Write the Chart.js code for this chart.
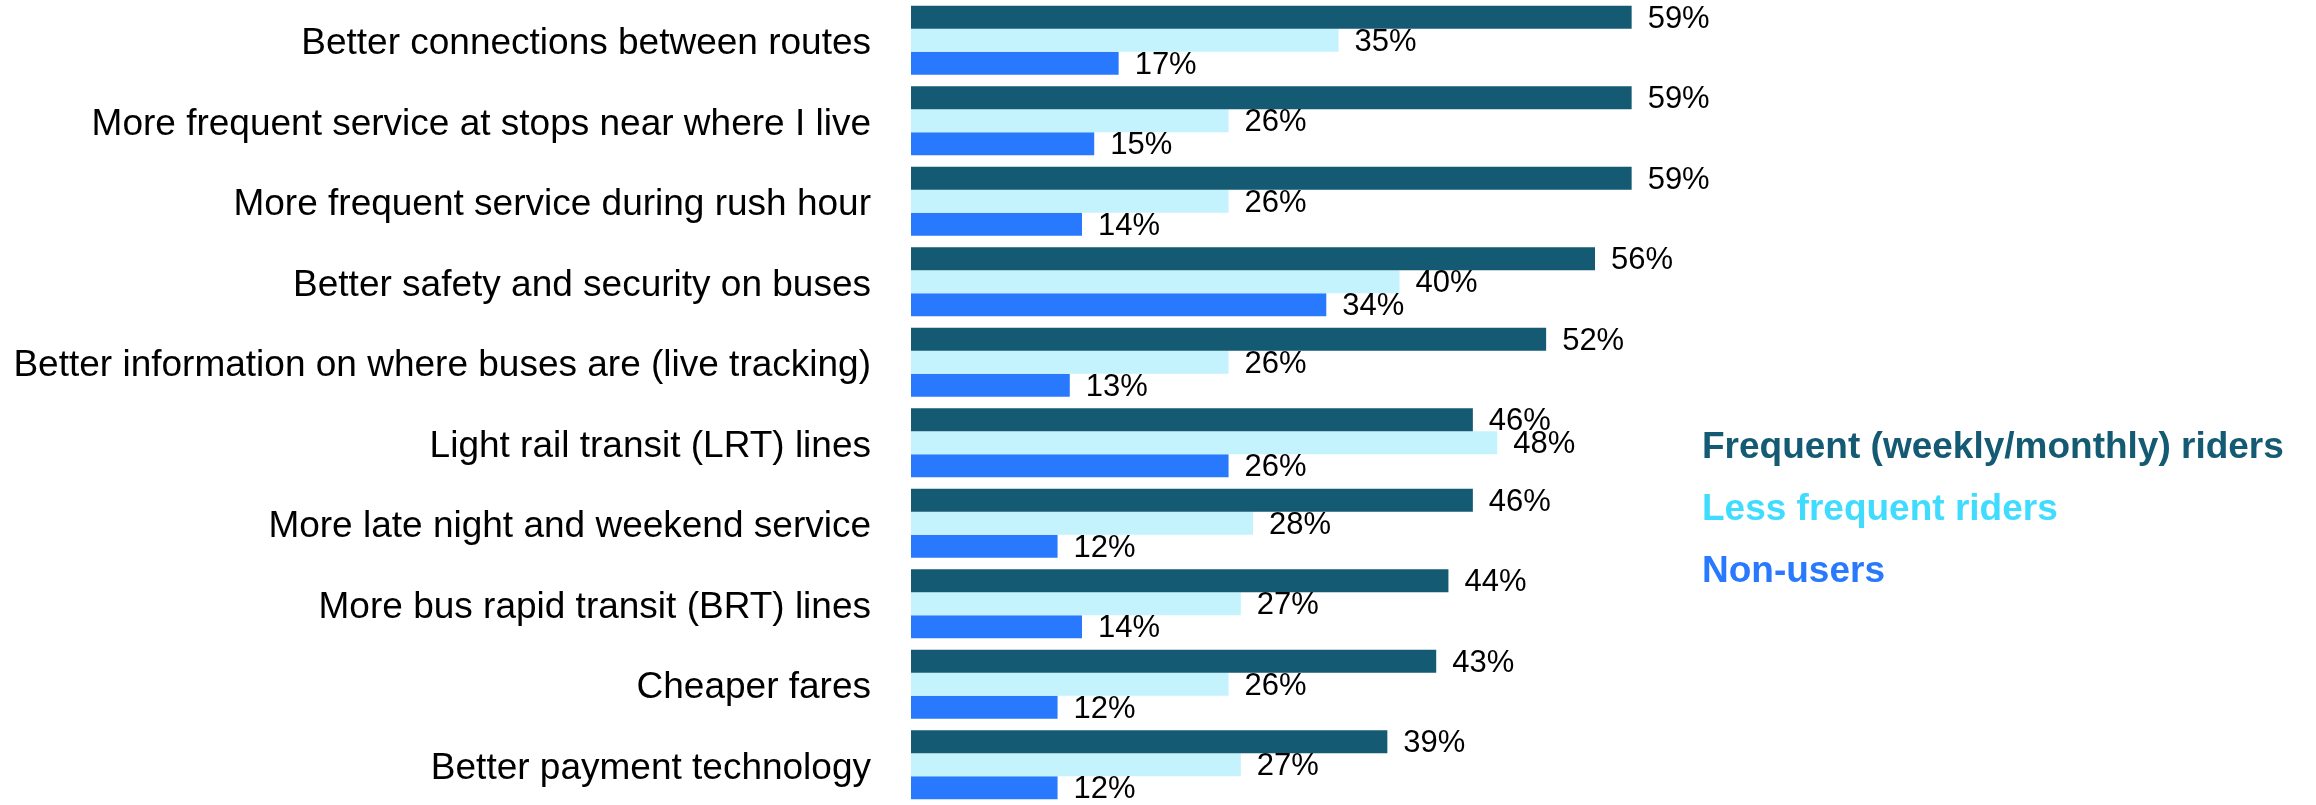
<!DOCTYPE html>
<html>
<head>
<title>Transit improvements by rider group</title>
<style>
body {
	margin: 0;
	background: #fff;
}
#chart-container {
	width: 2316px;
	height: 805px;
}
</style>
</head>
<body>
<div id="chart-container"><canvas id="chart"></canvas></div>
<script src="https://cdn.jsdelivr.net/npm/chart.js@4/dist/chart.umd.min.js"></script>
<script>
	var categories = [
		"Better connections between routes",
		"More frequent service at stops near where I live",
		"More frequent service during rush hour",
		"Better safety and security on buses",
		"Better information on where buses are (live tracking)",
		"Light rail transit (LRT) lines",
		"More late night and weekend service",
		"More bus rapid transit (BRT) lines",
		"Cheaper fares",
		"Better payment technology"
	];
	var seriesNames = ["Frequent (weekly/monthly) riders", "Less frequent riders", "Non-users"];
	var frequentRiders = [59, 59, 59, 56, 52, 46, 46, 44, 43, 39];
	var lessFrequentRiders = [35, 26, 26, 40, 26, 48, 28, 27, 26, 27];
	var nonUsers = [17, 15, 14, 34, 13, 26, 12, 14, 12, 12];

	var barColors = ['#135a72', '#c4f3fd', '#2979ff'];
	var legendColors = ['#135a72', '#40dcff', '#2979ff'];
	var fontFamily = '"Liberation Sans", Arial, sans-serif';

	// value labels at the end of each bar
	var valueLabels = {
		id: 'valueLabels',
		afterDatasetsDraw: function(chart) {
			var ctx = chart.ctx;
			ctx.save();
			ctx.font = '31px ' + fontFamily;
			ctx.fillStyle = '#000';
			ctx.textAlign = 'left';
			ctx.textBaseline = 'middle';
			chart.data.datasets.forEach(function(ds, i) {
				chart.getDatasetMeta(i).data.forEach(function(bar, j) {
					ctx.fillText(ds.data[j] + '%', bar.x + 16, bar.y + 2);
				});
			});
			ctx.restore();
		}
	};

	// coloured text legend on the right
	var textLegend = {
		id: 'textLegend',
		afterDraw: function(chart) {
			var ctx = chart.ctx;
			var x = chart.chartArea.right - 64;
			var y0 = 448;
			ctx.save();
			ctx.font = 'bold 37px ' + fontFamily;
			ctx.textAlign = 'left';
			ctx.textBaseline = 'middle';
			chart.data.datasets.forEach(function(ds, i) {
				ctx.fillStyle = legendColors[i];
				ctx.fillText(ds.label, x, y0 + i * 62);
			});
			ctx.restore();
		}
	};

	var datasets = [frequentRiders, lessFrequentRiders, nonUsers].map(function(values, i) {
		return {
			label: seriesNames[i],
			data: values,
			backgroundColor: barColors[i],
			borderWidth: 0,
			barPercentage: 1,
			categoryPercentage: 0.86
		};
	});

	new Chart(document.getElementById('chart'), {
		type: 'bar',
		data: {
			labels: categories,
			datasets: datasets
		},
		options: {
			indexAxis: 'y',
			responsive: true,
			maintainAspectRatio: false,
			animation: false,
			layout: {
				padding: { left: 0, right: 550, top: 0, bottom: -5 }
			},
			plugins: {
				legend: { display: false },
				tooltip: { enabled: false }
			},
			scales: {
				x: {
					display: false,
					min: 0,
					max: 70
				},
				y: {
					grid: { display: false },
					border: { display: false },
					ticks: {
						color: '#000',
						padding: 32,
						labelOffset: 4,
						font: { family: fontFamily, size: 37 }
					},
					afterFit: function(scale) {
						// fixed label column, and no extra room above/below the bands
						scale.width = 911;
						scale.paddingTop = 0;
						scale.paddingBottom = 0;
					}
				}
			}
		},
		plugins: [valueLabels, textLegend]
	});
</script>
</body>
</html>
